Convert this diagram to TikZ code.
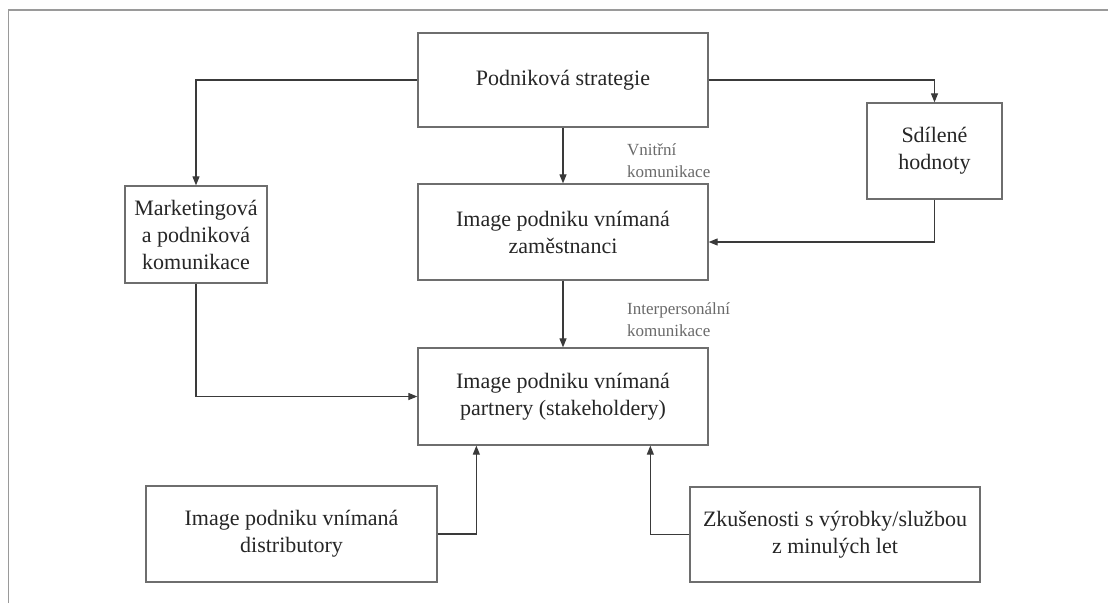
\documentclass[tikz,border=0pt]{standalone}
\usepackage{fontspec}
\setmainfont{LiberationSerif}[Extension=.ttf, UprightFont=*-Regular, BoldFont=*-Bold]
\usetikzlibrary{arrows.meta,calc}
\definecolor{boxline}{HTML}{6E6E6E}
\definecolor{conn}{HTML}{3A3A3A}
\definecolor{frameline}{HTML}{9A9A9A}
\definecolor{maintext}{HTML}{262626}
\definecolor{labeltext}{HTML}{6A6A6A}
\tikzset{
  box/.style={draw=boxline, line width=1.3pt, fill=white, inner sep=0pt, align=center,
    text=maintext, font=\rmfamily\fontsize{22}{27}\selectfont},
  arr/.style={draw=conn, line width=1.1pt, -{Triangle[length=9pt,width=7pt]}},
  lbl/.style={inner sep=0pt, align=left, anchor=west, text=labeltext,
    font=\rmfamily\fontsize{17}{22}\selectfont}
}
\begin{document}
\begin{tikzpicture}[x=1pt,y=-1pt]
\useasboundingbox (0,0) rectangle (1108,603);
\fill[white] (0,0) rectangle (1108,603);
\draw[frameline, line width=1.5pt] (8.5,603) -- (8.5,10) -- (1108,10);

\node[box, minimum width=290pt, minimum height=94pt] (top) at (563,80) {Podniková strategie};
\node[box, minimum width=142pt, minimum height=97pt] (mkt) at (196,234.5) {Marketingová\\a podniková\\komunikace};
\node[box, minimum width=290pt, minimum height=96pt] (zam) at (563,232) {Image podniku vnímaná\\zaměstnanci};
\node[box, minimum width=135pt, minimum height=96pt] (sdil) at (934.5,151) {Sdílené\\hodnoty};
\node[box, minimum width=290pt, minimum height=97pt] (par) at (563,396.5) {Image podniku vnímaná\\partnery (stakeholdery)};
\node[box, minimum width=291pt, minimum height=96pt] (dist) at (291.5,534) {Image podniku vnímaná\\distributory};
\node[box, minimum width=290pt, minimum height=95pt] (zk) at (835,534.5) {Zkušenosti s výrobky/službou\\z minulých let};

\node[lbl] (l1) at (627,161) {Vnitřní\\komunikace};
\node[lbl] (l2) at (627,320) {Interpersonální\\komunikace};

\draw[arr] (top.west) -| (mkt.north);
\draw[arr] (top.east) -| (sdil.north);
\draw[arr] (top.south) -- (zam.north);
\draw[arr] (sdil.south) |- ($(zam.east)+(0,10)$);
\draw[arr] (mkt.south) |- (par.west);
\draw[arr] (zam.south) -- (par.north);
\draw[arr] (dist.east) -| ($(par.south west)+(59,0)$);
\draw[arr] (zk.west) -| ($(par.south west)+(233,0)$);
\end{tikzpicture}
\end{document}
